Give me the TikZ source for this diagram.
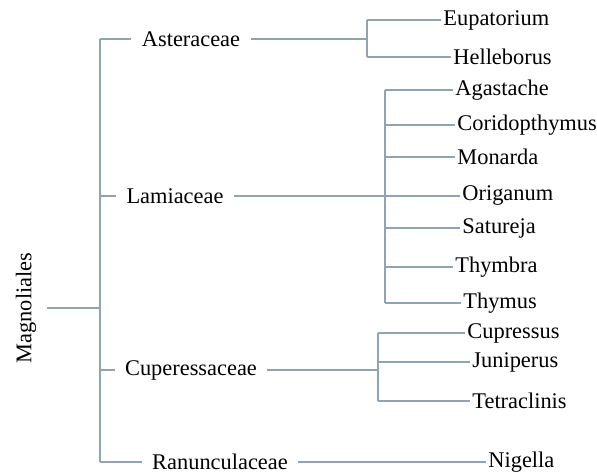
\documentclass[tikz,border=0pt]{standalone}
\usepackage{fontspec}
\setmainfont{Liberation Serif}
\definecolor{branch}{HTML}{8FA3B3}
\begin{document}
\begin{tikzpicture}[x=0.5pt,y=-0.5pt,
    every node/.style={font=\fontsize{11.2}{13}\selectfont},
    fam/.style={inner xsep=5pt,inner ysep=1pt},
    leaf/.style={anchor=west,inner xsep=1pt,inner ysep=1pt}]
  \useasboundingbox (0,0) rectangle (597,475);
  \draw
    (26,308) node[rotate=90,fam,inner ysep=5pt] (mag){Magnoliales}
    (191,39) node[fam] (ast){Asteraceae}
    (175,196) node[fam] (lam){Lamiaceae}
    (191,370) node[fam] (cup){Cuperessaceae}
    (220,462) node[fam] (ran){Ranunculaceae}
    (441,20) node[leaf] (eup){Eupatorium}
    (451,57) node[leaf] (hel){Helleborus}
    (453,90) node[leaf] (aga){Agastache}
    (455,125) node[leaf] (cor){Coridopthymus}
    (455,157) node[leaf] (mon){Monarda}
    (460,196) node[leaf] (ori){Origanum}
    (460,228) node[leaf] (sat){Satureja}
    (453,267) node[leaf] (thb){Thymbra}
    (461,303) node[leaf] (thy){Thymus}
    (465,333) node[leaf] (cus){Cupressus}
    (470,362) node[leaf] (jun){Juniperus}
    (470,401) node[leaf] (tet){Tetraclinis}
    (486,462) node[leaf] (nig){Nigella};
  \coordinate (sp) at (100,0);
  \coordinate (ja) at (367,0);
  \coordinate (jl) at (385,0);
  \coordinate (jc) at (378,0);
  \begin{scope}[draw=branch,line width=0.7pt]
    % order level
    \draw (mag.south) -- (sp |- mag);
    \draw (sp |- ast) -- (sp |- ran);
    \draw (sp |- ast) -- (ast.west);
    \draw (sp |- lam) -- (lam.west);
    \draw (sp |- cup) -- (cup.west);
    \draw (sp |- ran) -- (ran.west);
    % Asteraceae
    \draw (ast.east) -- (ja |- ast);
    \draw (ja |- eup) -- (ja |- hel);
    \draw (ja |- eup) -- (eup.west);
    \draw (ja |- hel) -- (hel.west);
    % Lamiaceae
    \draw (lam.east) -- (ori.west);
    \draw (jl |- aga) -- (jl |- thy);
    \draw (jl |- aga) -- (aga.west);
    \draw (jl |- cor) -- (cor.west);
    \draw (jl |- mon) -- (mon.west);
    \draw (jl |- sat) -- (sat.west);
    \draw (jl |- thb) -- (thb.west);
    \draw (jl |- thy) -- (thy.west);
    % Cuperessaceae
    \draw (cup.east) -- (jc |- cup);
    \draw (jc |- cus) -- (jc |- tet);
    \draw (jc |- cus) -- (cus.west);
    \draw (jc |- jun) -- (jun.west);
    \draw (jc |- tet) -- (tet.west);
    % Ranunculaceae
    \draw (ran.east) -- (nig.west);
  \end{scope}
\end{tikzpicture}
\end{document}
